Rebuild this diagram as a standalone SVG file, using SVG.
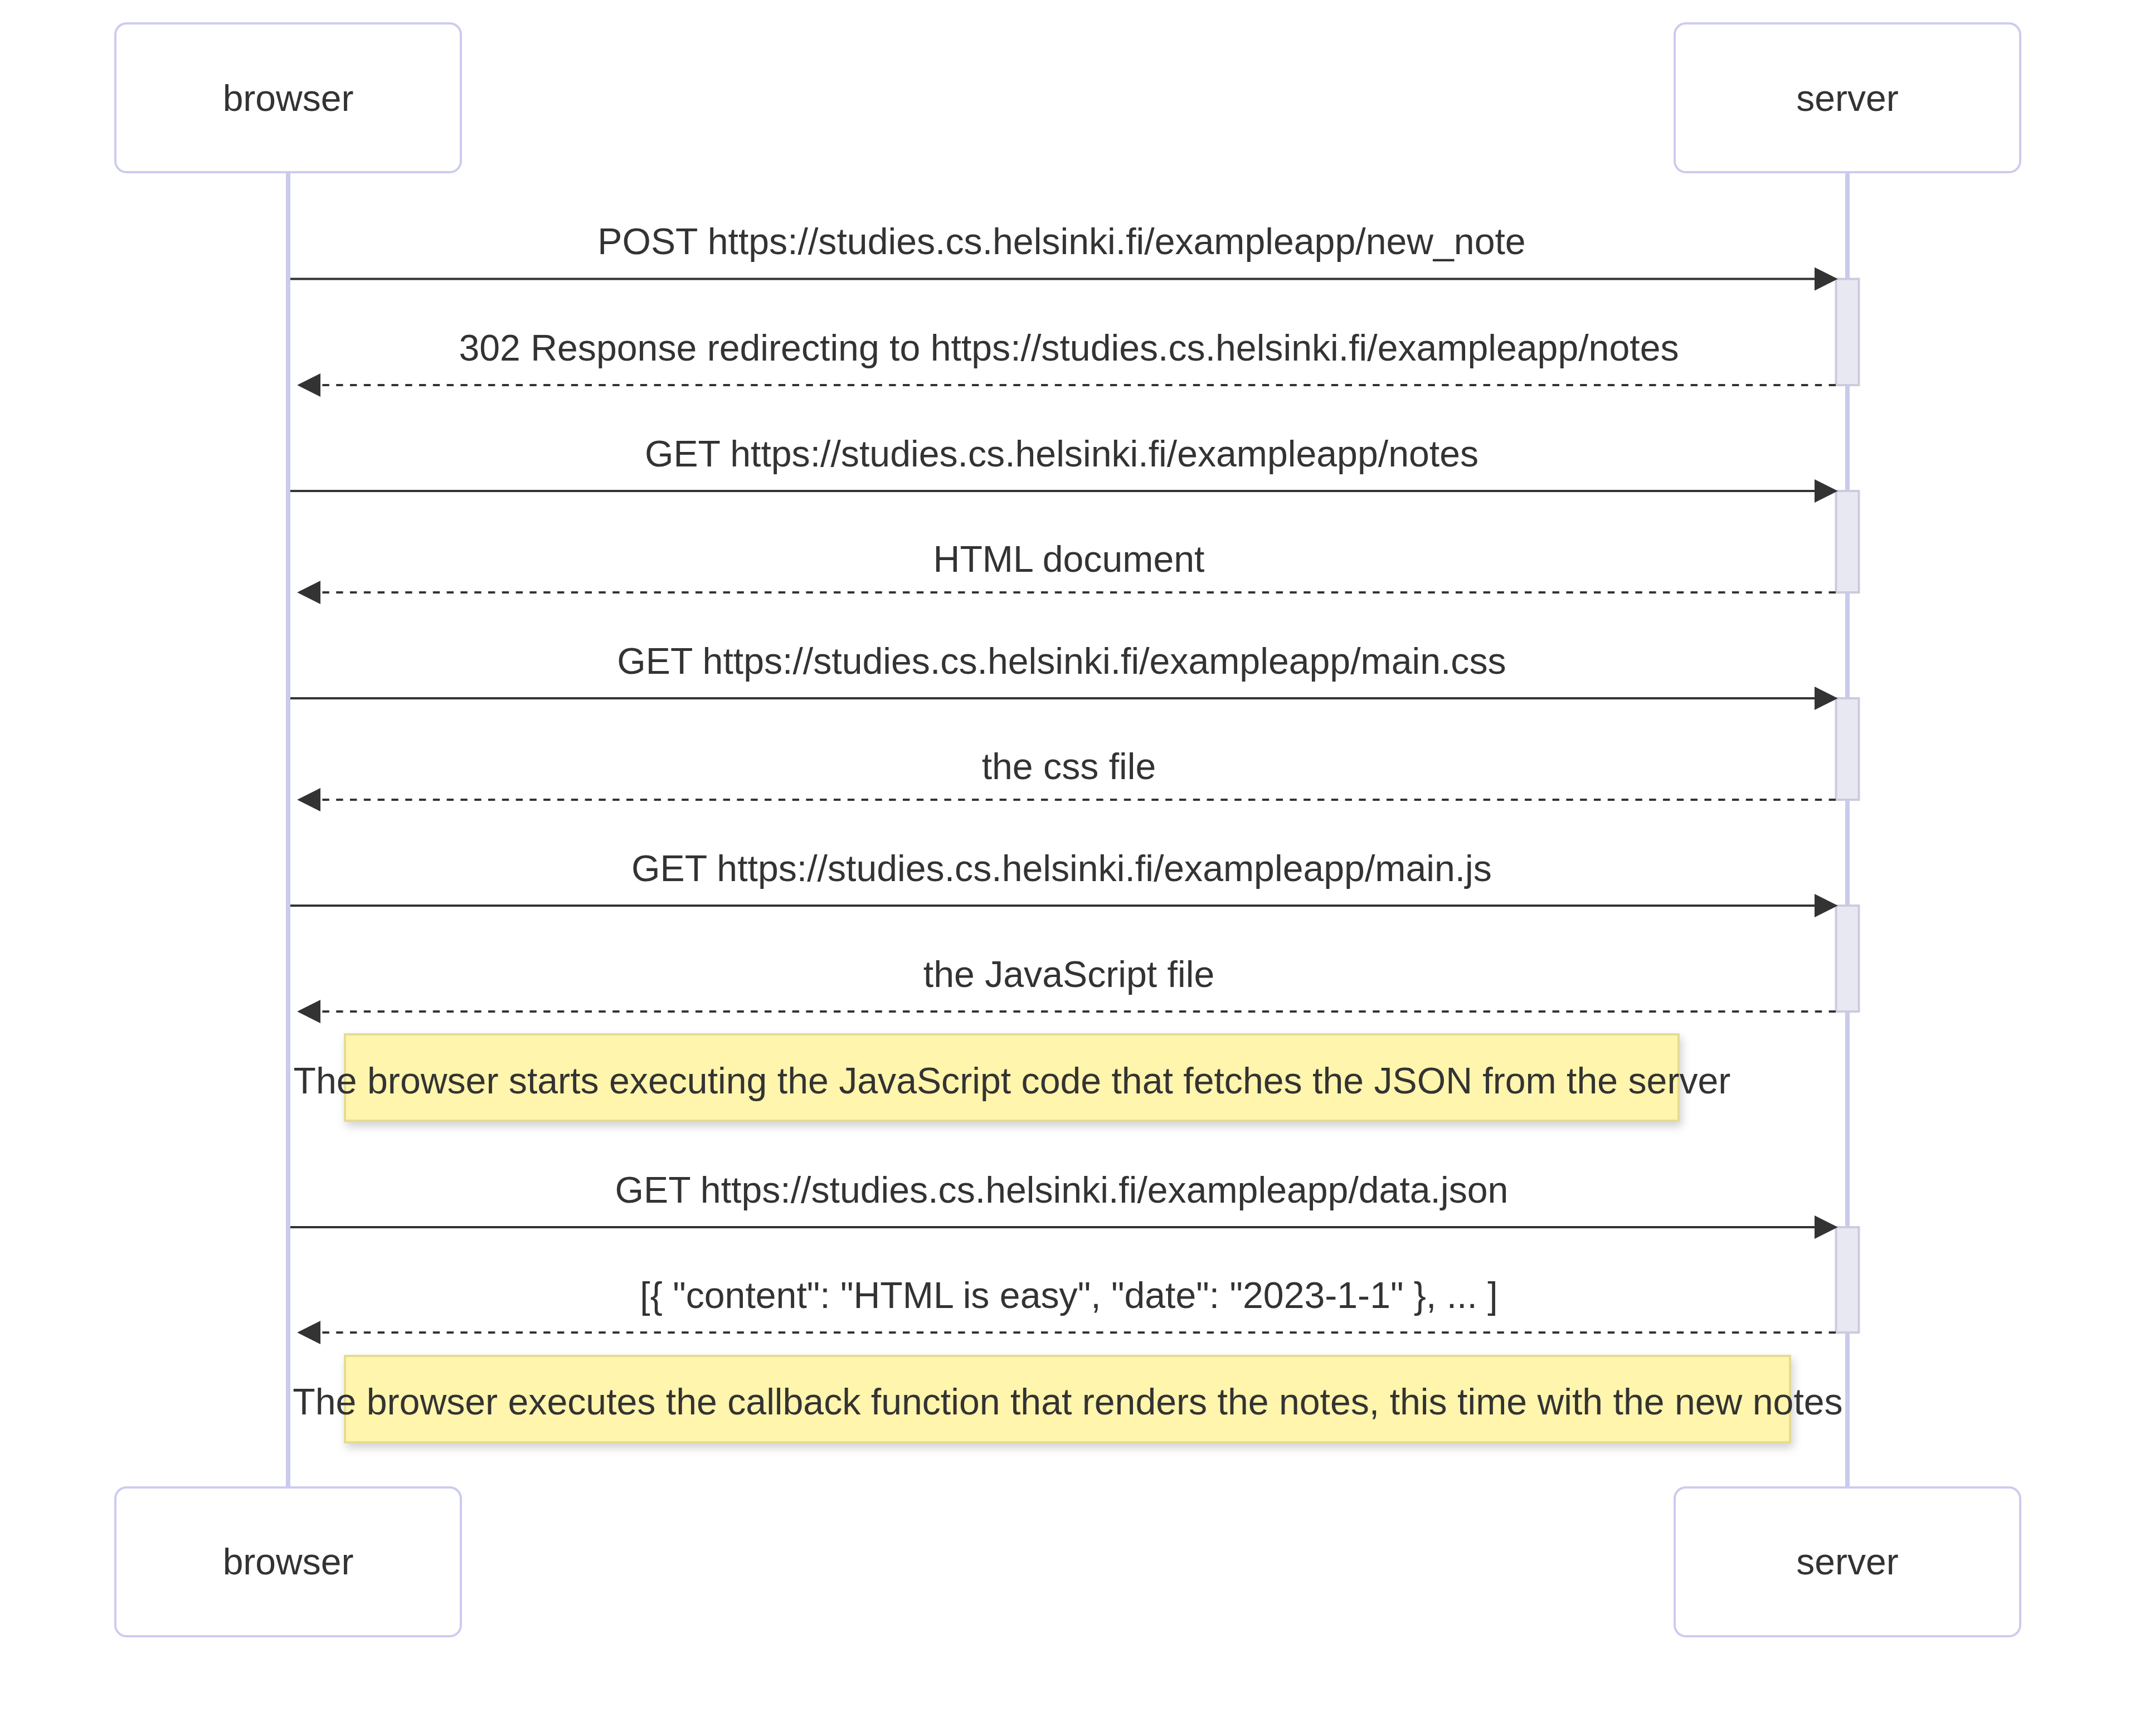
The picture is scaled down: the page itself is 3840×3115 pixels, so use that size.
<svg xmlns="http://www.w3.org/2000/svg" width="3840" height="3115" viewBox="0 0 3840 3115">
<style>
.actor{fill:#ffffff;stroke:#cbcbf0;stroke-width:4}
.atext{font-family:"Liberation Sans",Arial,sans-serif;font-size:66px;fill:#333333;text-anchor:middle;dominant-baseline:central}
.life{stroke:#cacaec;stroke-width:8}
.act{fill:#e8e8f3;stroke:#cbcbde;stroke-width:4}
.msg{stroke:#333333;stroke-width:4;fill:none}
.dash{stroke-dasharray:12.4 12.4}
.mtext{font-family:"Liberation Sans",Arial,sans-serif;font-size:66.2px;fill:#333333;text-anchor:middle}
.note{fill:#fff5ad;stroke:#e5dc92;stroke-width:4}
</style>
<defs>
<marker id="ah" viewBox="0 0 10 10" markerUnits="userSpaceOnUse" markerWidth="42" markerHeight="42" refX="7.9" refY="5" orient="auto">
<path d="M0,0 L10,5 L0,10 z" fill="#333333" stroke="none"/>
</marker>
<filter id="sh" x="-5%" y="-30%" width="110%" height="170%">
<feDropShadow dx="4" dy="8" stdDeviation="8" flood-color="#000000" flood-opacity="0.18"/>
</filter>
</defs>
<rect width="3840" height="3115" fill="#ffffff"/>
<g id="lifelines">
<line class="life" x1="517" y1="310" x2="517" y2="2669"/>
<line class="life" x1="3315" y1="310" x2="3315" y2="2669"/>
</g>
<g id="browser-top"><rect class="actor" x="207" y="42" width="620" height="267" rx="20"/><text class="atext" x="517" y="176">browser</text></g>
<g id="server-top"><rect class="actor" x="3005" y="42" width="620" height="267" rx="20"/><text class="atext" x="3315" y="176">server</text></g>
<g id="browser-bottom"><rect class="actor" x="207" y="2669" width="620" height="267" rx="20"/><text class="atext" x="517" y="2802">browser</text></g>
<g id="server-bottom"><rect class="actor" x="3005" y="2669" width="620" height="267" rx="20"/><text class="atext" x="3315" y="2802">server</text></g>
<g id="activations">
<rect class="act" x="3294.5" y="500.5" width="41" height="190.5"/>
<rect class="act" x="3294.5" y="881" width="41" height="182"/>
<rect class="act" x="3294.5" y="1253" width="41" height="182"/>
<rect class="act" x="3294.5" y="1625" width="41" height="190"/>
<rect class="act" x="3294.5" y="2202" width="41" height="189"/>
</g>
<g id="connectors">
<line class="msg" x1="521" y1="500.5" x2="3289" y2="500.5" marker-end="url(#ah)"/>
<text class="mtext" x="1905" y="456">POST https://studies.cs.helsinki.fi/exampleapp/new_note</text>
<line class="msg dash" x1="3294" y1="691" x2="542" y2="691" marker-end="url(#ah)"/>
<text class="mtext" x="1918" y="646.5">302 Response redirecting to https://studies.cs.helsinki.fi/exampleapp/notes</text>
<line class="msg" x1="521" y1="881" x2="3289" y2="881" marker-end="url(#ah)"/>
<text class="mtext" x="1905" y="836.5">GET https://studies.cs.helsinki.fi/exampleapp/notes</text>
<line class="msg dash" x1="3294" y1="1063" x2="542" y2="1063" marker-end="url(#ah)"/>
<text class="mtext" x="1918" y="1025.5">HTML document</text>
<line class="msg" x1="521" y1="1253" x2="3289" y2="1253" marker-end="url(#ah)"/>
<text class="mtext" x="1905" y="1208.5">GET https://studies.cs.helsinki.fi/exampleapp/main.css</text>
<line class="msg dash" x1="3294" y1="1435" x2="542" y2="1435" marker-end="url(#ah)"/>
<text class="mtext" x="1918" y="1397.5">the css file</text>
<line class="msg" x1="521" y1="1625" x2="3289" y2="1625" marker-end="url(#ah)"/>
<text class="mtext" x="1905" y="1580.5">GET https://studies.cs.helsinki.fi/exampleapp/main.js</text>
<line class="msg dash" x1="3294" y1="1815" x2="542" y2="1815" marker-end="url(#ah)"/>
<text class="mtext" x="1918" y="1770.5">the JavaScript file</text>
<line class="msg" x1="521" y1="2202" x2="3289" y2="2202" marker-end="url(#ah)"/>
<text class="mtext" x="1905" y="2157.5">GET https://studies.cs.helsinki.fi/exampleapp/data.json</text>
<line class="msg dash" x1="3294" y1="2391" x2="542" y2="2391" marker-end="url(#ah)"/>
<text class="mtext" x="1918" y="2346.5">[{ "content": "HTML is easy", "date": "2023-1-1" }, ... ]</text>
</g>
<g id="note1">
<rect class="note" x="619" y="1856" width="2393" height="155" filter="url(#sh)"/>
<text class="mtext" x="1816" y="1962">The browser starts executing the JavaScript code that fetches the JSON from the server</text>
</g>
<g id="note2">
<rect class="note" x="619" y="2433" width="2593" height="155" filter="url(#sh)"/>
<text class="mtext" x="1916" y="2538">The browser executes the callback function that renders the notes, this time with the new notes</text>
</g>
</svg>
